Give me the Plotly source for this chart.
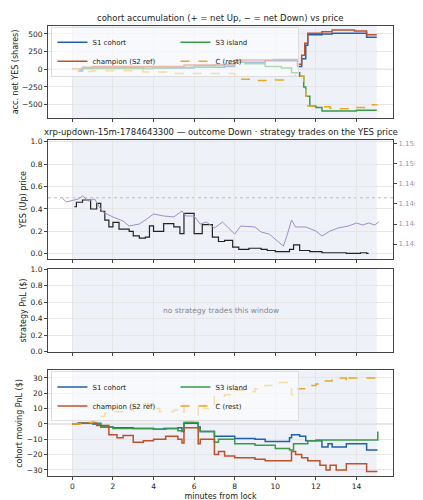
import plotly.graph_objects as go

# ---- panel 1: accumulated net YES shares ----
s1_t = [0,0.3,0.5,1,3.5,4,5.5,6,7,7.5,8,9.5,11.1,11.3,11.5,11.6,12.3,12.8,14.5,15]
s1_v = [0,-25,10,20,10,20,20,50,30,40,100,120,40,150,340,490,500,510,455,455]
ch_t = [0,0.5,1,5.5,7.5,8,9.9,11.1,11.3,11.45,11.6,12.3,12.8,13.9,14.5,15]
ch_v = [0,30,40,60,60,130,140,70,200,370,510,530,555,540,490,490]
s3_t = [0,0.5,3.5,4,5,7,7.5,8,8.5,9.5,10.3,10.8,11.2,11.4,11.5,11.7,12,12.3,14,15]
s3_v = [0,10,15,20,30,60,70,100,80,40,20,-50,-100,-250,-380,-520,-540,-590,-580,-580]
c_t = [0,0.3,1,3.5,5,7,8,9,10,10.7,11,11.2,11.4,11.5,11.6,12,12.7,13.2,14,14.5,15]
c_v = [0,-30,-20,-40,-60,-60,-140,-160,-150,-100,-50,-100,-250,-380,-520,-530,-550,-560,-540,-500,-490]

# ---- panel 2: YES price and XRP/USD ----
yes_t = [0.1,0.2,0.5,0.9,1.2,1.4,1.6,1.8,2,2.3,2.8,3.0,3.3,3.6,3.8,4,4.5,5,5.3,5.5,6,6.4,6.9,7.2,7.5,7.9,8.2,8.7,9.3,9.6,10.0,10.7,10.9,11.2,11.7,12.3,13.5,14.2,14.5,14.6]
yes_v = [0.42,0.46,0.48,0.40,0.45,0.38,0.30,0.24,0.28,0.22,0.20,0.16,0.14,0.15,0.25,0.20,0.27,0.24,0.18,0.36,0.18,0.26,0.15,0.11,0.12,0.06,0.04,0.05,0.04,0.03,0.02,0.04,0.08,0.03,0.02,0.01,0.005,0.01,0.005,0.005]
xrp_t = [-0.5,-0.3,0.3,0.5,0.8,1.1,1.3,1.5,2,2.5,2.8,3.3,3.6,4,4.5,5,5.4,5.6,6,6.3,6.6,7.0,7.4,8.0,8.3,9,9.3,9.7,10.1,10.4,10.6,10.8,11.0,11.5,12.0,12.3,12.7,13.1,13.6,14.0,14.3,14.6,14.9,15.1]
xrp_v = [1.1466,1.1462,1.1465,1.1468,1.1463,1.1465,1.1458,1.1452,1.1447,1.1443,1.1438,1.1440,1.1444,1.1450,1.1448,1.1447,1.1453,1.1448,1.1448,1.1440,1.1442,1.1436,1.1442,1.1430,1.1438,1.1437,1.1432,1.1430,1.1423,1.1418,1.1430,1.1444,1.1437,1.1437,1.1433,1.1428,1.1433,1.1436,1.1438,1.1441,1.1439,1.1441,1.1439,1.1442]
xrp_ticks = [1.142,1.144,1.146,1.148,1.150,1.152]
xrp_labels = ["1.142","1.144","1.146","1.148","1.150","1.152"]

# ---- panel 4: cohort moving PnL ----
p_s1_t = [0,0.3,1.0,1.4,2,3,4,4.5,5.2,5.4,5.5,6.2,6.3,7,8,9,9.5,10.7,10.8,11.2,11.5,12.3,12.6,12.8,13.5,14.5,15]
p_s1_v = [0,0.5,0,-2,-2.5,-3,-3.5,-3,-2.5,-5,0.5,-2,-5,-8,-9.5,-10,-11.5,-9,-7,-8,-11,-15,-13,-15,-13,-17,-17.5]
p_ch_t = [0,0.3,1.2,1.8,2.2,2.5,3,3.5,4,4.6,5.2,5.4,5.5,6.2,6.3,7,7.2,7.5,8,9,9.5,10.6,10.8,11,11.3,11.6,12.2,12.5,12.7,13,13.5,14.5,15]
p_ch_v = [0,0.5,-1,-7,-9,-7.5,-12,-11,-10,-8,-10,-12.5,-2.5,-13,-10,-20,-18,-21,-22,-23,-24,-24,-18,-20,-22,-24,-27,-30,-27,-30,-26,-31,-31.5]
p_s3_t = [0,0.3,1.4,2,4,4.6,5.2,5.5,6.2,6.3,7,7.2,8,9,10,10.7,10.9,11.6,12,15,15.05]
p_s3_v = [0,0.5,-2,-3,-3.5,-3,-4.5,1,-3,-5,-12,-10,-13,-14,-16,-17,-13,-11,-10.5,-10.5,-5]
p_c_t = [0,0.5,1,1.3,1.6,2,2.5,3,3.5,4,4.3,5,5.3,5.5,6.2,6.5,7,7.5,8,8.5,9,9.5,10,10.5,10.8,11.1,11.5,12,12.3,12.8,13.5,13.6,14,15]
p_c_v = [0,1,2,5,7,8,9,12,13,10,8,9,12,2,13,10,18,19,22,21,23,25,27,27,19,23,25,26,28,30,27,30,30,31]

x_ticks = [0,2,4,6,8,10,12,14]
BLUE, RED, GREEN, GOLD, PURPLE = "#2060b0", "#c0502a", "#3a9a48", "#e8a820", "#a08cc8"

fig = go.Figure()

def series(t, v, name, color, xa, ya, legend, dash="solid", show=True):
    fig.add_trace(go.Scatter(x=t, y=v, mode="lines", name=name, line=dict(color=color, width=1.5, dash=dash, shape="hv"),
                             xaxis=xa, yaxis=ya, legend=legend, showlegend=show))

for (t, v, n, c, d) in [(s1_t, s1_v, "S1 cohort", BLUE, "solid"), (s3_t, s3_v, "S3 island", GREEN, "solid"),
                        (ch_t, ch_v, "champion (S2 ref)", RED, "solid"), (c_t, c_v, "C (rest)", GOLD, "dash")]:
    series(t, v, n, c, "x", "y", "legend", d)

fig.add_trace(go.Scatter(x=xrp_t, y=xrp_v, mode="lines", line=dict(color=PURPLE, width=1), xaxis="x2", yaxis="y5", showlegend=False))
fig.add_trace(go.Scatter(x=yes_t, y=yes_v, mode="lines", line=dict(color="#222", width=1.2, shape="hv"), xaxis="x2", yaxis="y2", showlegend=False))

for (t, v, n, c, d) in [(p_s1_t, p_s1_v, "S1 cohort", BLUE, "solid"), (p_s3_t, p_s3_v, "S3 island", GREEN, "solid"),
                        (p_ch_t, p_ch_v, "champion (S2 ref)", RED, "solid"), (p_c_t, p_c_v, "C (rest)", GOLD, "dash")]:
    series(t, v, n, c, "x4", "y4", "legend2", d)

doms = {1: [0.784, 0.972], 2: [0.496, 0.74], 3: [0.308, 0.476], 4: [0.054, 0.27]}
ax = dict(showline=True, linecolor="#444", mirror=True, ticks="outside", ticklen=3, gridcolor="#e6e6e6",
          tickfont=dict(size=7.5), zeroline=False)
xr = [-1.2, 15.8]
for i in range(1, 5):
    k = "" if i == 1 else str(i)
    fig.layout["xaxis" + k] = go.layout.XAxis(ax, domain=[0, 1], range=xr, tickvals=x_ticks,
                                             showticklabels=(i == 4), anchor="y" + k)
fig.layout.xaxis4.title = dict(text="minutes from lock", font=dict(size=8), standoff=2)
fig.layout.yaxis = go.layout.YAxis(ax, domain=doms[1], range=[-690, 616], tickvals=[-500,-250,0,250,500],
                                   title=dict(text="acc. net YES (shares)", font=dict(size=8), standoff=2), anchor="x")
fig.layout.yaxis2 = go.layout.YAxis(ax, domain=doms[2], range=[-0.05, 1.018], tickvals=[0,0.2,0.4,0.6,0.8,1.0],
                                    tickformat=".1f", title=dict(text="YES (Up) price", font=dict(size=8), standoff=2), anchor="x2")
fig.layout.yaxis5 = dict(overlaying="y2", side="right", range=[1.14046, 1.15242], anchor="x2", showgrid=False,
                         tickmode="array", tickvals=xrp_ticks, ticktext=xrp_labels, ticks="outside", ticklen=3,
                         tickfont=dict(size=7, color=PURPLE), showline=True, linecolor="#444", zeroline=False,
                         title=dict(text="XRP/USD (strike dotted = YES 0.5)", font=dict(size=6.5, color=PURPLE), standoff=1))
fig.layout.yaxis3 = go.layout.YAxis(ax, domain=doms[3], range=[0, 1], tickvals=[0,0.2,0.4,0.6,0.8,1.0], tickformat=".1f",
                                    title=dict(text="strategy PnL ($)", font=dict(size=8), standoff=2), anchor="x3")
fig.layout.yaxis4 = go.layout.YAxis(ax, domain=doms[4], range=[-34.3, 34.9], tickvals=[-30,-20,-10,0,10,20,30],
                                    title=dict(text="cohort moving PnL ($)", font=dict(size=8), standoff=2), anchor="x4")

shapes = []
for i in range(1, 5):
    k = "" if i == 1 else str(i)
    shapes.append(dict(type="rect", xref="x" + k, yref="y" + k + " domain", x0=0, x1=15, y0=0, y1=1,
                       fillcolor="#eef1f8", line_width=0, layer="below"))
for k in ["", "4"]:
    shapes.append(dict(type="line", xref="x" + k + " domain", yref="y" + k, x0=0, x1=1, y0=0, y1=0,
                       line=dict(color="#c8c8c8", width=1), layer="below"))
shapes.append(dict(type="line", xref="x2 domain", yref="y2", x0=0, x1=1, y0=0.5, y1=0.5,
                   line=dict(color="#bbbbbb", width=1, dash="dot"), layer="below"))

annos = [
    dict(text="cohort accumulation (+ = net Up, − = net Down) vs price", x=0.5, y=0.974, xref="paper", yref="paper",
         xanchor="center", yanchor="bottom", showarrow=False, font=dict(size=8.5)),
    dict(text="xrp-updown-15m-1784643300 — outcome Down · strategy trades on the YES price", x=0.5, y=0.742,
         xref="paper", yref="paper", xanchor="center", yanchor="bottom", showarrow=False, font=dict(size=8.5)),
    dict(text="no strategy trades this window", x=0.5, y=0.5, xref="x3 domain", yref="y3 domain",
         showarrow=False, font=dict(size=7.5, color="#888")),
]

leg = dict(orientation="h", x=0.01, xanchor="left", yanchor="top", entrywidth=78, font=dict(size=7),
           bgcolor="rgba(255,255,255,0.6)", bordercolor="#ddd", borderwidth=1, tracegroupgap=0, itemwidth=30)
fig.update_layout(
    width=423, height=500, margin=dict(l=40, r=38, t=0, b=0),
    paper_bgcolor="white", plot_bgcolor="white",
    font=dict(family="DejaVu Sans", size=8, color="#222"),
    shapes=shapes, annotations=annos,
    legend=dict(leg, y=0.97), legend2=dict(leg, y=0.268),
)
fig.write_html("out.html")
